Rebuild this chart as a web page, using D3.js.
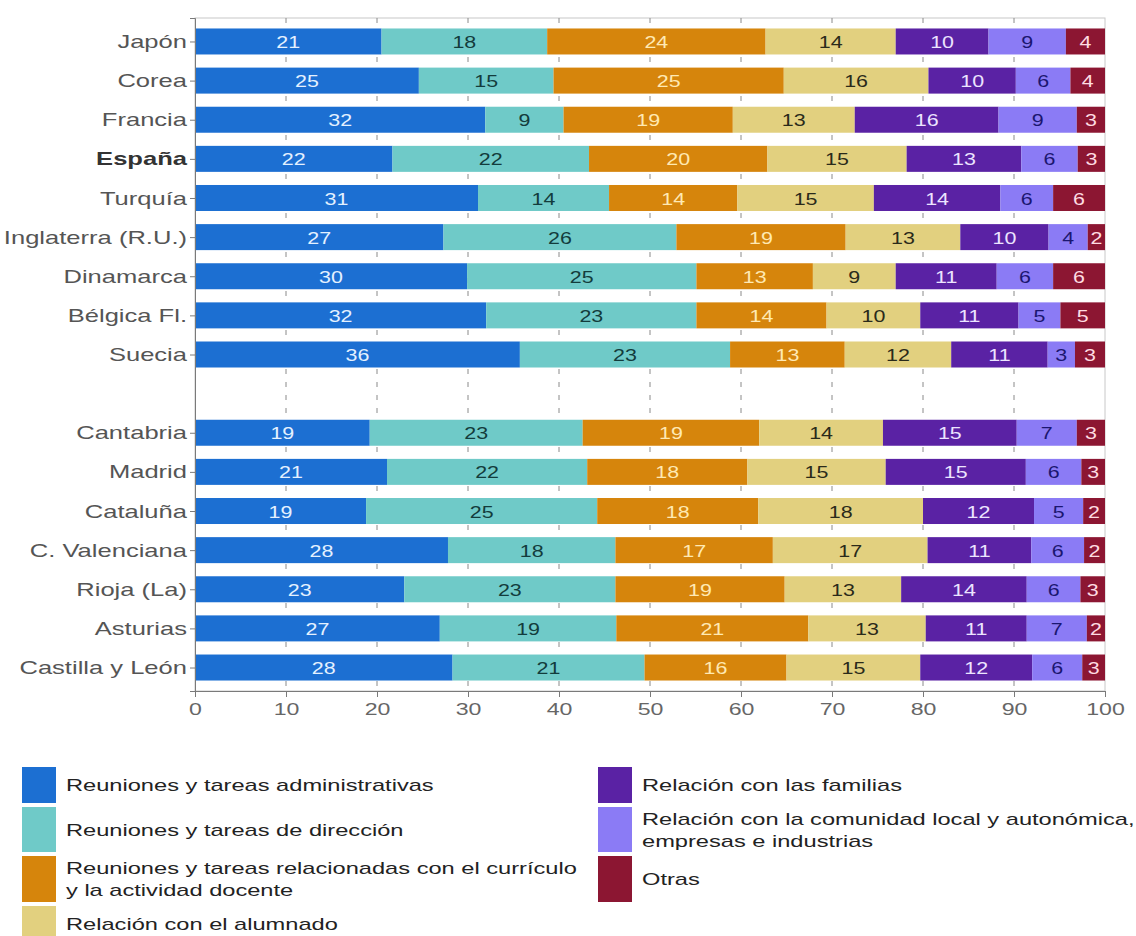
<!DOCTYPE html>
<html>
<head>
<meta charset="utf-8">
<script src="https://cdn.jsdelivr.net/npm/d3@7"></script>
<style>
  html, body { margin: 0; padding: 0; background: #ffffff; }
  svg { display: block; }
  text { font-family: "Liberation Sans", Arial, sans-serif; }
</style>
</head>
<body>
<svg id="chart" width="1136" height="936"></svg>
<script>
// ---------------- DATA ----------------
const countries = ["Japón", "Corea", "Francia", "España", "Turquía", "Inglaterra (R.U.)", "Dinamarca", "Bélgica Fl.", "Suecia"];
const regions = ["Cantabria", "Madrid", "Cataluña", "C. Valenciana", "Rioja (La)", "Asturias", "Castilla y León"];
const highlighted = ["España"];

const seriesKeys = ["admin", "direccion", "curriculo", "alumnado", "familias", "comunidad", "otras"];
const seriesLabels = [
  ["Reuniones y tareas administrativas"],
  ["Reuniones y tareas de dirección"],
  ["Reuniones y tareas relacionadas con el currículo", "y la actividad docente"],
  ["Relación con el alumnado"],
  ["Relación con las familias"],
  ["Relación con la comunidad local y autonómica,", "empresas e industrias"],
  ["Otras"]
];

// values, in the order countries then regions
const admin     = [20.5, 24.6, 31.9, 21.7, 31.1, 27.3, 29.9, 32.0, 35.7, 19.2, 21.1, 18.8, 27.8, 23.0, 26.9, 28.3];
const direccion = [18.2, 14.8,  8.6, 21.6, 14.4, 25.6, 25.2, 23.1, 23.1, 23.4, 22.0, 25.4, 18.4, 23.2, 19.4, 21.1];
const curriculo = [24.0, 25.3, 18.6, 19.6, 14.1, 18.6, 12.8, 14.3, 12.6, 19.4, 17.6, 17.7, 17.3, 18.6, 21.1, 15.6];
const alumnado  = [14.3, 15.9, 13.4, 15.3, 15.0, 12.6,  9.1, 10.3, 11.7, 13.6, 15.2, 18.1, 17.0, 12.8, 12.9, 14.7];
const familias  = [10.2,  9.6, 15.8, 12.6, 13.9,  9.7, 11.1, 10.8, 10.6, 14.7, 15.4, 12.2, 11.4, 13.8, 11.1, 12.3];
const comunidad = [ 8.5,  6.0,  8.6,  6.2,  5.8,  4.3,  6.2,  4.6,  3.0,  6.6,  6.1,  5.4,  5.8,  5.9,  6.6,  5.5];
const otras     = [ 4.3,  3.8,  3.1,  3.0,  5.7,  1.9,  5.7,  4.9,  3.3,  3.1,  2.6,  2.4,  2.3,  2.7,  2.0,  2.5];

const xTicks = [0, 10, 20, 30, 40, 50, 60, 70, 80, 90, 100];

// ---------------- STYLE ----------------
const colors = ["#1c6fd2", "#6fcac8", "#d6850c", "#e2d07f", "#5a22a4", "#8b7bf5", "#8c1632"];
const labelColors = ["#e4f1ff", "#133c3c", "#ffe9b3", "#2a2a1a", "#ece4ff", "#1b1670", "#ffdce2"];

const GAP = "__gap__";
const cats = countries.concat([GAP], regions);
const dataCats = countries.concat(regions);
const seriesArrays = [admin, direccion, curriculo, alumnado, familias, comunidad, otras];

const table = dataCats.map((c, i) => {
  const row = { cat: c };
  seriesKeys.forEach((k, j) => { row[k] = seriesArrays[j][i]; });
  return row;
});

const svg = d3.select("#chart");
const pLeft = 195, pRight = 1105, pTop = 18, pBottom = 691;

const x = d3.scaleLinear().domain([0, 100]).range([pLeft, pRight]);
const y = d3.scalePoint().domain(cats).range([pTop, pBottom]).padding(0.6);
const barH = 26;

function stretchedText(sel, fx, fy, sx) {
  sel.attr("x", 0).attr("y", 0)
     .attr("transform", (d, i) => `translate(${fx(d, i)},${fy(d, i)}) scale(${sx},1)`);
}

// panel border
svg.append("rect")
  .attr("x", pLeft).attr("y", pTop)
  .attr("width", pRight - pLeft).attr("height", pBottom - pTop)
  .attr("fill", "none").attr("stroke", "#c8c8c8").attr("stroke-width", 1);

// dashed gridlines
svg.append("g").selectAll("line")
  .data(xTicks.filter(t => t > 0 && t < 100))
  .join("line")
  .attr("x1", d => x(d)).attr("x2", d => x(d))
  .attr("y1", pTop).attr("y2", pBottom)
  .attr("stroke", "#8a8a8a").attr("stroke-width", 1)
  .attr("stroke-dasharray", "5,8");

// bars
const stack = d3.stack().keys(seriesKeys);
const stacked = stack(table);

const layers = svg.append("g").selectAll("g")
  .data(stacked)
  .join("g")
  .attr("fill", (d, i) => colors[i]);

layers.selectAll("rect")
  .data(d => d.map(p => ({ p, cat: p.data.cat })))
  .join("rect")
  .attr("x", d => x(d.p[0]))
  .attr("width", d => x(d.p[1]) - x(d.p[0]))
  .attr("y", d => y(d.cat) - barH / 2)
  .attr("height", barH);

// value labels
stacked.forEach((layer, i) => {
  const g = svg.append("g");
  const t = g.selectAll("text")
    .data(layer)
    .join("text")
    .attr("text-anchor", "middle")
    .attr("dominant-baseline", "central")
    .attr("font-size", 16.5)
    .attr("fill", labelColors[i])
    .text(d => Math.round(d[1] - d[0]));
  stretchedText(t, d => x((d[0] + d[1]) / 2), d => y(d.data.cat) + 1, 1.3);
});

// axes
const xAxis = d3.axisBottom(x).tickValues(xTicks).tickSize(6).tickPadding(4).tickFormat(d3.format("d"));
const gx = svg.append("g").attr("transform", `translate(0,${pBottom})`).call(xAxis);
gx.select(".domain").attr("stroke", "#7a7a7a");
gx.selectAll(".tick line").attr("stroke", "#7a7a7a");
gx.selectAll(".tick text").each(function () {
  d3.select(this)
    .attr("font-size", 17).attr("fill", "#666").attr("font-family", null)
    .attr("x", 0).attr("dy", null).attr("y", 0)
    .attr("dominant-baseline", "central")
    .attr("transform", `translate(0,18) scale(1.36,1)`);
});

const yAxis = d3.axisLeft(y).tickSize(5).tickPadding(4).tickFormat(d => d === GAP ? "" : d);
const gy = svg.append("g").attr("transform", `translate(${pLeft},0)`).call(yAxis);
gy.select(".domain").attr("stroke", "#7a7a7a");
gy.selectAll(".tick line").attr("stroke", "#7a7a7a").attr("opacity", d => d === GAP ? 0 : 1);
gy.selectAll(".tick text").each(function (d) {
  d3.select(this)
    .attr("font-size", 18).attr("font-family", null)
    .attr("fill", highlighted.includes(d) ? "#333" : "#555")
    .attr("font-weight", highlighted.includes(d) ? "bold" : "normal")
    .attr("x", 0).attr("dy", null).attr("y", 0)
    .attr("dominant-baseline", "central")
    .attr("transform", `translate(-8,0) scale(1.42,1)`);
});

// legend
const legendCols = [[0, 1, 2, 3], [4, 5, 6]];
const rowTops = [767, 807, 856, 906];
const rowHeights = [36, 45, 46, 36];
const colX = [22, 598];
const keyW = 34, textGap = 10, lineH = 22;

legendCols.forEach((col, ci) => {
  col.forEach((si, ri) => {
    const g = svg.append("g");
    g.append("rect")
      .attr("x", colX[ci]).attr("y", rowTops[ri])
      .attr("width", keyW).attr("height", rowHeights[ri])
      .attr("fill", colors[si]);
    const lines = seriesLabels[si];
    const cy = rowTops[ri] + rowHeights[ri] / 2;
    const t = g.selectAll("text").data(lines).join("text")
      .attr("font-size", 17).attr("fill", "#222")
      .attr("dominant-baseline", "central")
      .text(d => d);
    stretchedText(t, () => colX[ci] + keyW + textGap,
      (d, i) => cy + (i - (lines.length - 1) / 2) * lineH, 1.39);
  });
});
</script>
</body>
</html>
